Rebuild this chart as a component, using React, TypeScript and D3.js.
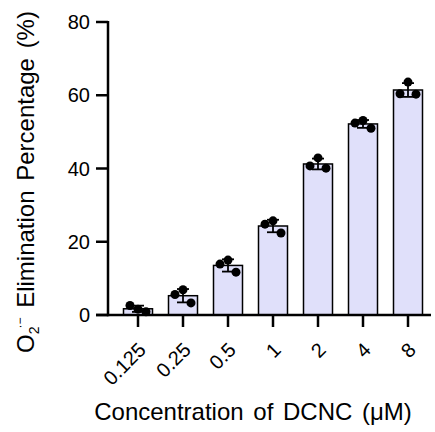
import React from 'react';
import * as d3 from 'd3';

// DCNC concentrations (µM) and the three replicate measurements (%)
const concentrations = ['0.125', '0.25', '0.5', '1', '2', '4', '8'];
const rep1 = [2.6, 5.6, 13.9, 24.8, 40.7, 52.4, 60.4];
const rep2 = [1.6, 6.9, 15.0, 25.7, 42.9, 53.1, 63.6];
const rep3 = [0.9, 3.3, 11.7, 22.4, 40.1, 51.0, 60.3];
const yTicks = [0, 20, 40, 60, 80];

const W = 435;
const H = 432;
const font = '"Liberation Sans", Arial, sans-serif';

export default function App() {
  const x = d3.scaleBand()
    .domain(concentrations)
    .range([115.5, 430.5])
    .paddingInner(16 / 45)
    .paddingOuter(8 / 45);

  const y = d3.scaleLinear().domain([0, 80]).range([315, 22]);

  const groups = concentrations.map((c, i) => {
    const vals = [rep1[i], rep2[i], rep3[i]];
    return { c, vals, mean: d3.mean(vals), sd: d3.deviation(vals) };
  });

  const jitter = [-8, 0, 8];
  const axisX = 108;
  const x0 = y(0);

  return (
    <svg width={W} height={H} style={{ position: 'absolute', left: 0, top: 0 }} fontFamily={font}>
      {/* bars */}
      {groups.map((g) => (
        <rect
          key={g.c}
          x={x(g.c)}
          y={y(g.mean)}
          width={x.bandwidth()}
          height={x0 - y(g.mean)}
          fill="#e0e0fa"
          stroke="#000"
          strokeWidth={1.5}
        />
      ))}
      {/* error bars */}
      {groups.map((g) => {
        const cx = x(g.c) + x.bandwidth() / 2;
        return (
          <g key={'e' + g.c} stroke="#000" strokeWidth={1.8}>
            <line x1={cx} x2={cx} y1={y(g.mean + g.sd)} y2={y(g.mean - g.sd)} />
            <line x1={cx - 6} x2={cx + 6} y1={y(g.mean + g.sd)} y2={y(g.mean + g.sd)} />
            <line x1={cx - 6} x2={cx + 6} y1={y(g.mean - g.sd)} y2={y(g.mean - g.sd)} />
          </g>
        );
      })}
      {/* points */}
      {groups.map((g) => {
        const cx = x(g.c) + x.bandwidth() / 2;
        return g.vals.map((v, j) => (
          <circle key={g.c + j} cx={cx + jitter[j]} cy={y(v)} r={4.5} fill="#000" />
        ));
      })}

      {/* y axis */}
      <line x1={axisX} x2={axisX} y1={y(80) - 1} y2={x0 + 1.2} stroke="#000" strokeWidth={2.5} />
      {yTicks.map((t) => (
        <g key={t}>
          <line x1={axisX - 12} x2={axisX} y1={y(t)} y2={y(t)} stroke="#000" strokeWidth={2.5} />
          <text x={axisX - 18} y={y(t)} dy="0.36em" textAnchor="end" fontSize={20}>{t}</text>
        </g>
      ))}

      {/* x axis */}
      <line x1={axisX - 12} x2={431} y1={x0} y2={x0} stroke="#000" strokeWidth={2.5} />
      {concentrations.map((c) => {
        const cx = x(c) + x.bandwidth() / 2;
        return (
          <g key={'t' + c}>
            <line x1={cx} x2={cx} y1={x0} y2={x0 + 12} stroke="#000" strokeWidth={2.5} />
            <text
              transform={`translate(${cx + 4},${x0 + 31}) rotate(-45)`}
              textAnchor="end"
              dy="0.36em"
              fontSize={20}
            >
              {c}
            </text>
          </g>
        );
      })}

      {/* axis titles */}
      <text x={253} y={420} textAnchor="middle" fontSize={24} wordSpacing={3}>
        Concentration of DCNC (μM)
      </text>
      <text transform="translate(34,353) rotate(-90)" textAnchor="start" fontSize={24} wordSpacing={3}>
        O<tspan fontSize={14} dy={5}>2</tspan>
        <tspan fontSize={12} dx={-2} dy={-15}>·−</tspan>
        <tspan dy={10}> Elimination Percentage (%)</tspan>
      </text>
    </svg>
  );
}
